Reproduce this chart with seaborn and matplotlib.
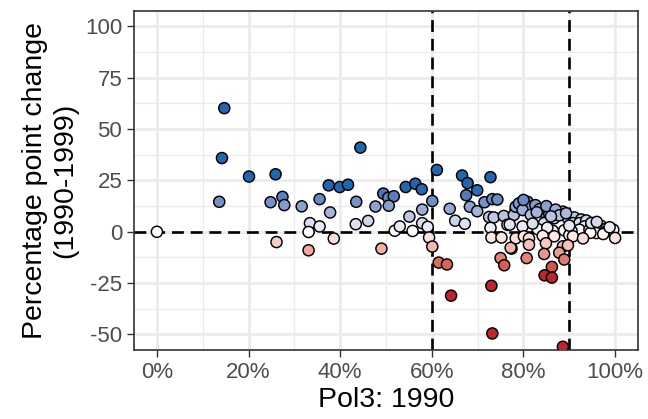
import numpy as np
import pandas as pd
import matplotlib
matplotlib.use("Agg")
import matplotlib.pyplot as plt
from matplotlib.colors import ListedColormap, Normalize
import seaborn as sns

# Share of Pol3 in 1990 and percentage point change 1990-1999
pol3_1990 = [
    0.000, 0.147, 0.142, 0.201, 0.259, 0.136, 0.248, 0.274, 0.278, 0.316,
    0.261, 0.334, 0.331, 0.331, 0.355, 0.375, 0.399, 0.417, 0.378, 0.355,
    0.386, 0.444, 0.435, 0.434, 0.461, 0.477, 0.494, 0.505, 0.517, 0.506,
    0.490, 0.519, 0.530, 0.543, 0.564, 0.578, 0.551, 0.558, 0.579, 0.579,
    0.591, 0.594, 0.601, 0.601, 0.611, 0.615, 0.633, 0.642, 0.666, 0.678,
    0.699, 0.675, 0.728, 0.683, 0.699, 0.715, 0.732, 0.743, 0.639, 0.651,
    0.672, 0.725, 0.735, 0.728, 0.730, 0.732, 0.730, 0.752, 0.750, 0.758,
    0.774, 0.757, 0.783, 0.765, 0.779, 0.783, 0.790, 0.805, 0.809, 0.816,
    0.798, 0.816, 0.842, 0.856, 0.886, 0.867, 0.845, 0.897, 0.911, 0.908,
    0.926, 0.922, 0.937, 0.933, 0.955, 0.966, 0.970, 0.981, 0.981, 0.996,
    1.000, 0.770, 0.798, 0.831, 0.864, 0.889, 0.922, 0.944, 0.959, 0.974,
    0.946, 0.905, 0.852, 0.820, 0.783, 0.801, 0.812, 0.842, 0.867, 0.900,
    0.908, 0.930, 0.772, 0.812, 0.849, 0.886, 0.897, 0.807, 0.845, 0.878,
    0.889, 0.862, 0.846, 0.862, 0.886, 0.800, 0.826, 0.835, 0.850, 0.870,
    0.878, 0.893, 0.860, 0.829, 0.900, 0.948, 0.960, 0.988,
]
change_1990_1999 = [
    0.0, 60.2, 35.9, 26.9, 28.0, 14.6, 14.4, 17.0, 13.0, 12.4,
    -5.0, 4.2, -0.1, -9.0, 15.9, 22.6, 21.8, 22.9, 9.4, 2.6,
    -3.3, 41.0, 14.6, 3.7, 5.3, 12.3, 18.6, 16.6, 17.3, 12.7,
    -8.2, 0.5, 2.6, 21.8, 23.4, 20.7, 7.4, 0.4, 10.8, 4.2,
    2.4, -2.8, -7.2, 15.0, 30.1, -15.0, -15.9, -31.1, 27.4, 23.7,
    20.2, 17.8, 26.6, 12.2, 10.0, 14.4, 15.9, 15.7, 11.2, 5.4,
    3.9, 7.2, 7.0, 1.9, -26.3, -49.5, -2.8, -2.8, -12.8, -16.3,
    -8.2, 7.7, 10.6, 3.4, 8.2, 12.2, 13.8, 12.2, 14.6, 12.2,
    10.6, 8.2, 9.8, 9.0, 9.8, 6.6, 4.2, 6.6, 7.0, 4.2,
    6.0, 4.2, 5.5, 2.6, 3.6, 2.0, 2.8, 1.6, 0.2, 1.0,
    -3.0, 3.5, 2.6, 1.3, 0.5, 0.7, 1.0, 1.0, -0.6, -1.1,
    -0.5, 0.3, 2.0, 4.0, -3.2, -2.2, -3.2, -2.0, -2.2, -1.6,
    -2.2, -3.2, -7.8, -6.3, -5.6, -7.1, -6.6, -12.8, -10.8, -10.2,
    -13.5, -17.1, -21.2, -22.3, -56.0, 15.5, 13.0, 11.0, 12.5, 10.8,
    8.0, 9.0, 7.5, 9.5, 3.0, 4.3, 4.8, 2.2,
]

x_ticks = [0.0, 0.2, 0.4, 0.6, 0.8, 1.0]
x_tick_labels = ["0%", "20%", "40%", "60%", "80%", "100%"]
y_ticks = [-50, -25, 0, 25, 50, 75, 100]
y_tick_labels = ["-50", "-25", "0", "25", "50", "75", "100"]
cutoffs = [0.6, 0.9]

df = pd.DataFrame({"pol3": pol3_1990, "change": change_1990_1999})


# Diverging red-white-blue gradient interpolated in CIELAB space
def _srgb_to_lab(rgb):
    rgb = np.asarray(rgb, dtype=float)
    lin = np.where(rgb <= 0.04045, rgb / 12.92, ((rgb + 0.055) / 1.055) ** 2.4)
    m = np.array([[0.4124, 0.3576, 0.1805],
                  [0.2126, 0.7152, 0.0722],
                  [0.0193, 0.1192, 0.9505]])
    xyz = m @ lin / np.array([0.95047, 1.0, 1.08883])
    f = np.where(xyz > 0.008856, np.cbrt(xyz), 7.787 * xyz + 16 / 116)
    return np.array([116 * f[1] - 16, 500 * (f[0] - f[1]), 200 * (f[1] - f[2])])


def _lab_to_srgb(lab):
    L, a, b = lab
    fy = (L + 16) / 116
    fx = fy + a / 500
    fz = fy - b / 200
    f = np.array([fx, fy, fz])
    xyz = np.where(f ** 3 > 0.008856, f ** 3, (f - 16 / 116) / 7.787)
    xyz = xyz * np.array([0.95047, 1.0, 1.08883])
    m = np.array([[3.2406, -1.5372, -0.4986],
                  [-0.9689, 1.8758, 0.0415],
                  [0.0557, -0.2040, 1.0570]])
    lin = m @ xyz
    rgb = np.where(lin <= 0.0031308, 12.92 * lin, 1.055 * np.clip(lin, 0, None) ** (1 / 2.4) - 0.055)
    return np.clip(rgb, 0, 1)


def _hex(c):
    c = c.lstrip("#")
    return np.array([int(c[i:i + 2], 16) / 255 for i in (0, 2, 4)])


low_lab = _srgb_to_lab(_hex("#C0242C"))
mid_lab = _srgb_to_lab(_hex("#FFFFFF"))
high_lab = _srgb_to_lab(_hex("#2166B0"))
colors = []
for t in np.linspace(-1, 1, 257):
    end = low_lab if t < 0 else high_lab
    colors.append(_lab_to_srgb(mid_lab + abs(t) * (end - mid_lab)))
cmap = ListedColormap(colors)

sns.set_theme(style="white")
plt.rcParams["font.family"] = ["Liberation Sans", "DejaVu Sans"]

fig = plt.figure(figsize=(6.48, 4.19), dpi=100)
ax = fig.add_axes([0.2068, 0.165, 0.9846 - 0.2068, 0.9737 - 0.165])

# grid (major + minor), drawn beneath everything
ax.set_xticks(x_ticks)
ax.set_xticks([0.1, 0.3, 0.5, 0.7, 0.9], minor=True)
ax.set_yticks(y_ticks)
ax.set_yticks([-37.5, -12.5, 12.5, 37.5, 62.5, 87.5], minor=True)
ax.set_axisbelow(True)
ax.grid(which="major", color="#EBEBEB", lw=1.9)
ax.grid(which="minor", color="#EBEBEB", lw=0.95)

# reference lines
dash = (0, (4.5, 2.6))
ax.axhline(0, color="black", lw=1.9, ls=dash, zorder=1.5)
for c in cutoffs:
    ax.axvline(c, color="black", lw=1.9, ls=dash, zorder=1.5)

sns.scatterplot(
    data=df, x="pol3", y="change", hue="change",
    palette=cmap, hue_norm=Normalize(-21, 21, clip=True),
    s=64, edgecolor="black", linewidth=1.05, legend=False,
    ax=ax, zorder=3, clip_on=True,
)

ax.set_xlim(-0.05, 1.05)
ax.set_ylim(-57.5, 107.5)
ax.set_xticklabels(x_tick_labels)
ax.set_yticklabels(y_tick_labels)

ax.tick_params(which="major", length=5, width=1.0, color="#333333",
               labelsize=16, labelcolor="#4D4D4D", pad=3.5,
               bottom=True, left=True)
ax.tick_params(which="minor", length=0)
for sp in ax.spines.values():
    sp.set_color("#333333")
    sp.set_linewidth(1.2)
    sp.set_visible(True)

ax.set_xlabel("Pol3: 1990", fontsize=20.5, color="black", labelpad=3)
ax.set_ylabel("Percentage point change\n(1990-1999)", fontsize=20.5,
              color="black", labelpad=5, linespacing=1.2)

fig.savefig("out.png", dpi=100)
